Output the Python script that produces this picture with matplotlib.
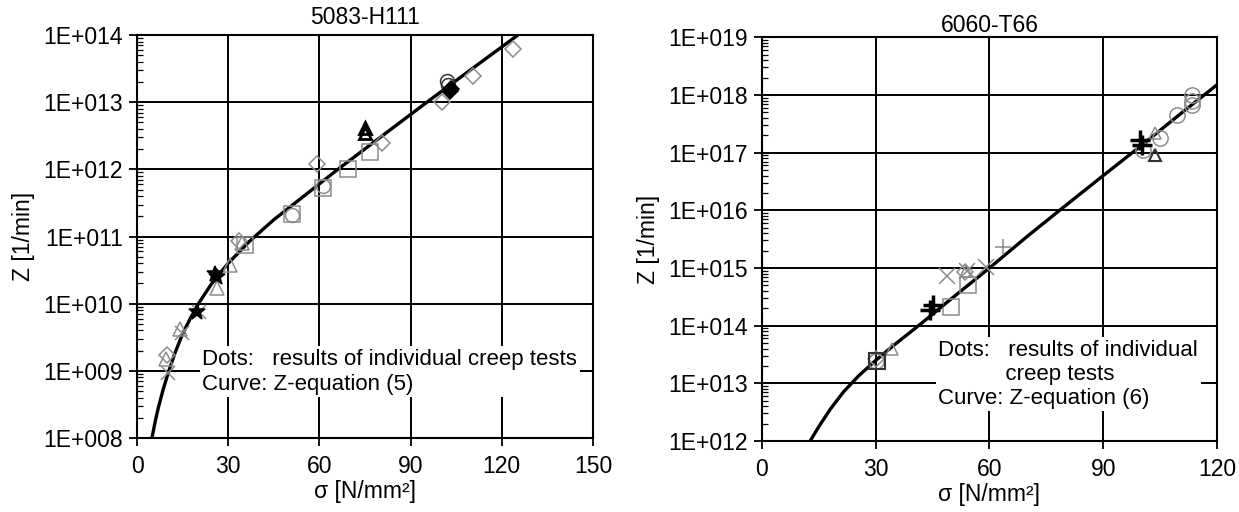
import numpy as np
import matplotlib
matplotlib.use("Agg")
from matplotlib import pyplot as plt
from matplotlib.ticker import FixedLocator, FuncFormatter, LogLocator, NullFormatter

plt.rcParams['font.family'] = ['Liberation Sans', 'DejaVu Sans']

# ---- 5083-H111 (left) ----
curve_a_s = [4.9, 6.0, 7.0, 8.5, 10.3, 12.5, 15.0, 17.5, 20.2, 25.0, 30.0, 37.0, 45.0,
             53.6, 65.8, 80.0, 94.7, 110.0, 125.3]
curve_a_z = [1.0e8, 1.78e8, 2.82e8, 5.1e8, 9.5e8, 1.86e9, 3.55e9, 6.0e9, 1.0e10, 2.14e10,
             4.0e10, 8.5e10, 1.78e11, 3.6e11, 9.8e11, 3.0e12, 9.5e12, 3.1e13, 1.0e14]

a_diamond_s = [9.8, 59.1, 80.5, 100.2, 110.6, 123.8, 33.5]
a_diamond_z = [1.7e9, 1.2e12, 2.5e12, 1.0e13, 2.5e13, 6.3e13, 8.5e10]
a_square_s = [51.0, 61.1, 69.5, 76.6, 35.5]
a_square_z = [2.2e11, 5.2e11, 1.0e12, 1.8e12, 7.5e10]
a_circle_s = [51.0, 61.1]
a_circle_z = [2.1e11, 5.6e11]
a_triangle_s = [14.2, 26.2, 30.6, 34.4, 9.5]
a_triangle_z = [4.2e9, 1.7e10, 3.8e10, 8.0e10, 1.5e9]
a_cross_s = [10.3, 14.7, 20.5]
a_cross_z = [9.3e8, 3.7e9, 7.6e9]
a_dark_circle_s = [101.9, 102.3]
a_dark_circle_z = [2.1e13, 1.8e13]
a_black_tri_s = [75.0, 75.0]
a_black_tri_z = [4.1e12, 3.5e12]
a_black_star_s = [19.6, 25.7, 26.3]
a_black_star_z = [7.6e9, 2.8e10, 2.5e10]
a_black_fill_s = [103.0, 103.4]
a_black_fill_z = [1.45e13, 1.6e13]

# ---- 6060-T66 (right) ----
curve_b_s = [12.7, 15.0, 18.0, 21.5, 25.5, 30.0, 35.0, 41.3, 50.0, 60.0, 70.0, 80.0,
             90.0, 100.0, 110.0, 120.0]
curve_b_z = [1.0e12, 1.78e12, 3.55e12, 7.1e12, 1.35e13, 2.5e13, 4.7e13, 1.0e14, 2.95e14,
             1.0e15, 3.55e15, 1.2e16, 4.0e16, 1.32e17, 4.5e17, 1.5e18]

b_square_s = [49.8, 54.4]
b_square_z = [2.1e14, 5.0e14]
b_cross_s = [48.7, 59.2, 54.0]
b_cross_z = [7.4e14, 1.05e15, 8.7e14]
b_diamond_s = [53.6, 30.0]
b_diamond_z = [8.5e14, 2.6e13]
b_triangle_s = [34.2, 103.7, 53.8]
b_triangle_z = [4.0e13, 2.2e17, 9.0e14]
b_plus_s = [63.7]
b_plus_z = [2.3e15]
b_circle_s = [100.6, 105.0, 109.4, 113.4, 113.4, 113.4, 30.2]
b_circle_z = [1.1e17, 1.8e17, 4.5e17, 9.8e17, 7.9e17, 6.6e17, 2.4e13]
b_dark_square_s = [30.3]
b_dark_square_z = [2.4e13]
b_dark_tri_s = [103.7]
b_dark_tri_z = [9.1e16]
b_black_plus_s = [44.3, 45.0, 99.7, 100.2]
b_black_plus_z = [1.85e14, 2.3e14, 1.65e17, 1.35e17]

GRAY = '#8c8c8c'
DARK = '#333333'
FS = 16.5
FS_NOTE = 16

fig = plt.figure(figsize=(12.39, 5.12), dpi=100)
ax1 = fig.add_axes([0.1106, 0.1445, 0.368, 0.787])
ax2 = fig.add_axes([0.615, 0.1387, 0.3672, 0.7884])


def pts(ax, s, z, m, color, ms=10, mew=1.1, fill=False):
    ax.plot(s, z, linestyle='none', marker=m, ms=ms, mew=mew,
            mec=color, mfc=color if fill else 'none', zorder=4)


def style(ax, xmax, ylo, yhi, title, title_pad):
    ax.set_yscale('log')
    ax.set_xlim(0, xmax)
    ax.set_ylim(ylo, yhi)
    ax.xaxis.set_major_locator(FixedLocator(np.arange(0, xmax + 1, 30)))
    ax.yaxis.set_major_locator(FixedLocator([10.0 ** e for e in range(int(np.log10(ylo)), int(np.log10(yhi)) + 1)]))
    ax.yaxis.set_minor_locator(LogLocator(base=10, subs=np.arange(2, 10), numticks=50))
    ax.yaxis.set_minor_formatter(NullFormatter())
    ax.yaxis.set_major_formatter(FuncFormatter(lambda v, p: '1E+%03d' % int(round(np.log10(v)))))
    ax.grid(True, which='major', color='black', linewidth=1.4)
    ax.tick_params(which='major', direction='out', length=6, width=1.3, labelsize=FS, pad=4)
    ax.tick_params(axis='x', which='major', pad=6)
    ax.tick_params(which='minor', direction='in', length=4, width=0.9)
    for sp in ax.spines.values():
        sp.set_linewidth(1.5)
    ax.set_title(title, fontsize=FS, pad=title_pad)
    ax.set_xlabel('σ [N/mm²]', fontsize=FS, labelpad=2)
    ax.set_ylabel('Z [1/min]', fontsize=FS, labelpad=6)


# left panel
style(ax1, 150, 1e8, 1e14, '5083-H111', 8)
ax1.plot(curve_a_s, curve_a_z, color='black', linewidth=2.4, zorder=3)
pts(ax1, a_diamond_s, a_diamond_z, 'D', GRAY, ms=8)
pts(ax1, a_square_s, a_square_z, 's', GRAY, ms=11)
pts(ax1, a_circle_s, a_circle_z, 'o', GRAY, ms=10)
pts(ax1, a_triangle_s, a_triangle_z, '^', GRAY, ms=10)
pts(ax1, a_cross_s, a_cross_z, 'x', GRAY, ms=10)
pts(ax1, a_dark_circle_s, a_dark_circle_z, 'o', DARK, ms=10)
pts(ax1, a_black_tri_s, a_black_tri_z, '^', 'black', ms=9, mew=2)
pts(ax1, a_black_star_s, a_black_star_z, '*', 'black', ms=12, fill=True)
pts(ax1, a_black_fill_s, a_black_fill_z, 'D', 'black', ms=8, fill=True)
ax1.text(21.5, 10 ** 9.33, 'Dots:   results of individual creep tests\nCurve: Z-equation (5)',
         fontsize=FS_NOTE, va='top', ha='left', linespacing=1.25, zorder=5,
         bbox=dict(facecolor='white', edgecolor='none', pad=2))

# right panel
style(ax2, 120, 1e12, 1e19, '6060-T66', 3)
ax2.plot(curve_b_s, curve_b_z, color='black', linewidth=2.4, zorder=3)
pts(ax2, b_square_s, b_square_z, 's', GRAY, ms=11)
pts(ax2, b_cross_s, b_cross_z, 'x', GRAY, ms=11)
pts(ax2, b_diamond_s, b_diamond_z, 'D', GRAY, ms=8)
pts(ax2, b_triangle_s, b_triangle_z, '^', GRAY, ms=9)
pts(ax2, b_plus_s, b_plus_z, '+', GRAY, ms=12)
pts(ax2, b_circle_s, b_circle_z, 'o', GRAY, ms=11)
pts(ax2, b_dark_square_s, b_dark_square_z, 's', DARK, ms=11, mew=1.5)
pts(ax2, b_dark_tri_s, b_dark_tri_z, '^', DARK, ms=8, mew=1.5)
pts(ax2, b_black_plus_s, b_black_plus_z, '+', 'black', ms=14, mew=2.5)
ax2.text(46.5, 10 ** 13.75, 'Dots:   results of individual\n           creep tests\nCurve: Z-equation (6)',
         fontsize=FS_NOTE, va='top', ha='left', linespacing=1.17, zorder=5,
         bbox=dict(facecolor='white', edgecolor='none', pad=2))

fig.savefig('out.png', dpi=100)
